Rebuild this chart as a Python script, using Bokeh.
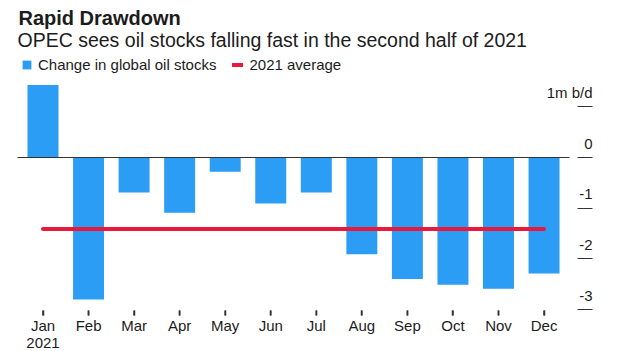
from bokeh.plotting import figure
from bokeh.models import (Range1d, LinearAxis, FixedTicker, Label, Legend, LegendItem)
from bokeh.embed import file_html
from bokeh.resources import INLINE

# ---- data ----
months = ["Jan", "Feb", "Mar", "Apr", "May", "Jun", "Jul", "Aug", "Sep", "Oct", "Nov", "Dec"]
year_label = "2021"
stock_change = [1.43, -2.80, -0.69, -1.09, -0.28, -0.91, -0.69, -1.91, -2.40, -2.51, -2.59, -2.29]
average_2021 = -1.41
y_ticks = [-3, -2, -1, 0, 1]
y_tick_labels = ["-3", "-2", "-1", "0", "1m b/d"]
title = "Rapid Drawdown"
subtitle = "OPEC sees oil stocks falling fast in the second half of 2021"
legend_labels = ["Change in global oil stocks", "2021 average"]

# ---- style / geometry ----
FONT = "Liberation Sans"
BLUE = "#2b9df4"
RED = "#e8193c"
TEXT = "#1c1c1c"
TICK = "#333333"

W, H = 620, 351
px_per_month, x0_px = 45.55, 42.5     # pixel centre of first month, spacing
zero_px, px_per_unit = 157, 50.67     # pixel row of zero, pixels per 1m b/d


def xd(px):
    return (px - x0_px) / px_per_month


def yd(py):
    return (zero_px - py) / px_per_unit


label_shift = 14.5 / px_per_unit
xs = list(range(len(months)))

p = figure(width=W, height=H, output_backend="svg", toolbar_location=None, title=None,
           x_range=Range1d(xd(0), xd(W)), y_range=Range1d(yd(H), yd(0)),
           min_border_left=0, min_border_right=0, min_border_top=0, min_border_bottom=0,
           x_axis_location=None, y_axis_location=None)
p.outline_line_color = None
p.grid.grid_line_color = None
p.background_fill_color = "white"
p.border_fill_color = "white"

# zero baseline (stops short of the right-hand scale)
zaxis = LinearAxis(fixed_location=0, bounds=(xd(17), xd(569)), ticker=FixedTicker(ticks=[]),
                   axis_line_color="#333333", axis_line_width=1,
                   major_tick_line_color=None, minor_tick_line_color=None)
p.add_layout(zaxis, "below")

# x axis labels
overrides = {i: m for i, m in enumerate(months)}
overrides[0] = months[0] + "\n" + year_label
xaxis = LinearAxis(fixed_location=yd(310), ticker=FixedTicker(ticks=xs),
                   major_label_overrides=overrides,
                   axis_line_color=None, major_tick_out=5, major_tick_in=0,
                   major_tick_line_color=TICK, major_tick_line_width=1.5,
                   minor_tick_line_color=None,
                   major_label_standoff=1, major_label_text_font=FONT,
                   major_label_text_font_size="15px", major_label_text_color=TEXT,
                   major_label_text_line_height=1.0)
p.add_layout(xaxis, "below")

# short month tick marks just under the plot area (thin filled rectangles)
p.vbar(x=xs, bottom=yd(315), top=yd(310), width=1.6 / px_per_month,
       fill_color=TICK, line_color=None)

# right-hand scale: short dashes
ya = LinearAxis(fixed_location=xd(592), ticker=FixedTicker(ticks=y_ticks), axis_line_color=None,
                major_tick_in=0, major_tick_out=15, major_tick_line_color=TICK,
                minor_tick_line_color=None, major_label_text_color=None,
                major_label_text_font_size="1px", major_label_standoff=0)
p.add_layout(ya, "left")

# right-hand scale: labels sitting above the dashes, right aligned
p.extra_y_ranges = {"labels": Range1d(yd(H) - label_shift, yd(0) - label_shift)}
yb = LinearAxis(y_range_name="labels", fixed_location=xd(592), ticker=FixedTicker(ticks=y_ticks),
                major_label_overrides={t: l for t, l in zip(y_ticks, y_tick_labels)},
                axis_line_color=None, major_tick_line_color=None, minor_tick_line_color=None,
                major_tick_in=0, major_tick_out=0, major_label_standoff=0,
                major_label_text_font=FONT,
                major_label_text_font_size="15px", major_label_text_color=TEXT)
p.add_layout(yb, "left")

bars = p.vbar(x=xs, top=stock_change, bottom=0, width=0.68, fill_color=BLUE, line_color=None)
avg = p.line(x=[xs[0], xs[-1]], y=[average_2021, average_2021], line_color=RED,
             line_width=4, line_cap="round")

legend = Legend(items=[LegendItem(label=legend_labels[0], renderers=[bars]),
                       LegendItem(label=legend_labels[1], renderers=[avg])],
                orientation="horizontal", location=(21, H - 73),
                border_line_color=None, background_fill_alpha=0,
                padding=0, margin=0, glyph_width=11, glyph_height=11,
                label_height=11, label_standoff=6, spacing=16,
                label_text_font=FONT, label_text_font_size="15px",
                label_text_color=TEXT)
p.add_layout(legend)

p.add_layout(Label(x=18, y=H - 17.5, x_units="screen", y_units="screen", text=title,
                   text_font=FONT, text_font_size="20px", text_font_style="bold",
                   text_color=TEXT, text_baseline="alphabetic"))
p.add_layout(Label(x=17, y=H - 39.5, x_units="screen", y_units="screen", text=subtitle,
                   text_font=FONT, text_font_size="19.5px",
                   text_color=TEXT, text_baseline="alphabetic"))

open("out.html", "w").write(file_html(p, INLINE))
